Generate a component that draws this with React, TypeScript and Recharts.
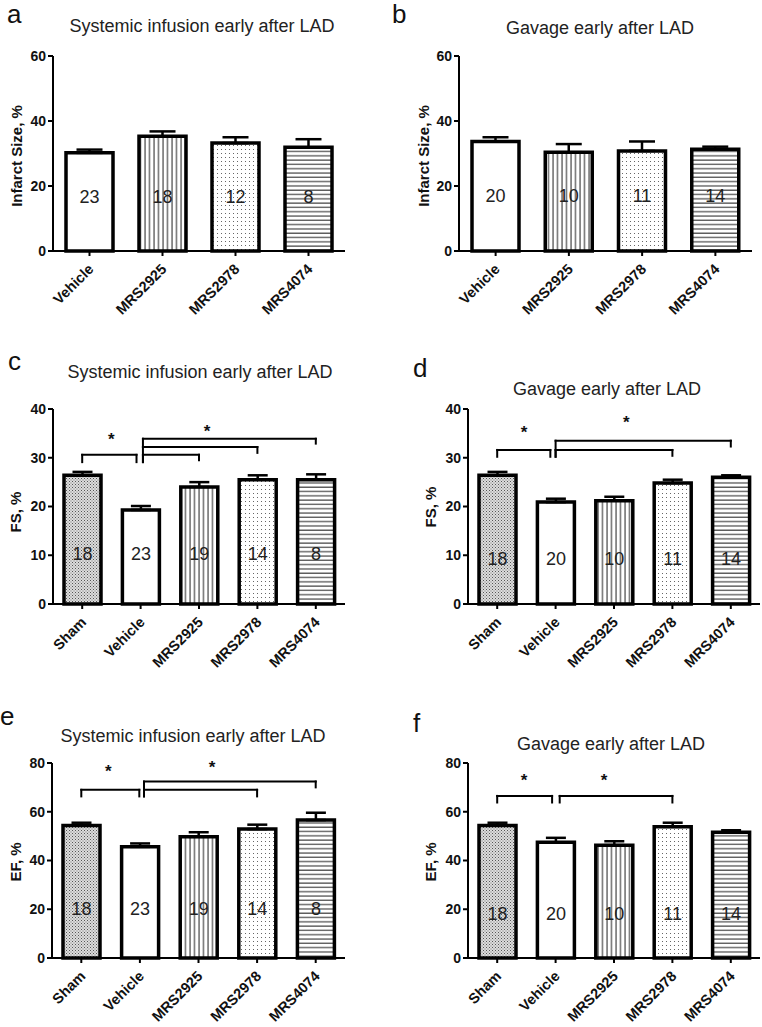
import React from 'react';
import { BarChart, Bar, XAxis, YAxis, ErrorBar, Cell, LabelList, ReferenceLine, ReferenceDot } from 'recharts';

const FONT = '"Liberation Sans", Arial, Helvetica, sans-serif';

// ---------- data ----------
const infarctCategories = ['Vehicle', 'MRS2925', 'MRS2978', 'MRS4074'];
const echoCategories = ['Sham', 'Vehicle', 'MRS2925', 'MRS2978', 'MRS4074'];

const aMeans = [30.2, 35.3, 33.2, 31.9];
const aSem = [1.0, 1.5, 1.8, 2.5];
const aN = [23, 18, 12, 8];

const bMeans = [33.7, 30.4, 30.8, 31.3];
const bSem = [1.3, 2.5, 2.9, 0.8];
const bN = [20, 10, 11, 14];

const cMeans = [26.4, 19.3, 24.0, 25.5, 25.5];
const cSem = [0.7, 0.8, 1.0, 0.9, 1.1];
const cN = [18, 23, 19, 14, 8];

const dMeans = [26.4, 20.9, 21.2, 24.8, 26.0];
const dSem = [0.7, 0.7, 0.8, 0.7, 0.4];
const dN = [18, 20, 10, 11, 14];

const eMeans = [54.4, 45.6, 49.7, 52.9, 56.6];
const eSem = [1.1, 1.4, 1.9, 1.8, 3.0];
const eN = [18, 23, 19, 14, 8];

const fMeans = [54.4, 47.5, 46.3, 53.8, 51.6];
const fSem = [1.1, 1.8, 1.6, 1.7, 0.8];
const fN = [18, 20, 10, 11, 14];

// significance brackets: horizontal at y from x1 to x2 (category index units), legs down to l / r
const cBrackets = [
  { x1: 0, x2: 0.93, y: 30.6, l: 29.1, r: 29.1 },
  { x1: 1.04, x2: 2, y: 30.6, l: 29.1, r: 29.5 },
  { x1: 1.04, x2: 3, y: 32.2, l: 32.2, r: 31.0 },
  { x1: 1.04, x2: 4, y: 33.9, l: 29.1, r: 32.9 },
];
const cStars = [{ x: 0.5, y: 34.7 }, { x: 2.14, y: 36.4 }];

const dBrackets = [
  { x1: 0, x2: 0.91, y: 31.6, l: 30.2, r: 30.2 },
  { x1: 1.0, x2: 3, y: 31.6, l: 30.2, r: 30.4 },
  { x1: 1.0, x2: 4, y: 33.5, l: 30.2, r: 32.3 },
];
const dStars = [{ x: 0.46, y: 36.2 }, { x: 2.21, y: 38.2 }];

const eBrackets = [
  { x1: 0, x2: 0.99, y: 69.0, l: 66.3, r: 66.3 },
  { x1: 1.07, x2: 3, y: 69.0, l: 66.3, r: 66.3 },
  { x1: 1.07, x2: 4, y: 72.4, l: 66.3, r: 70.0 },
];
const eStars = [{ x: 0.46, y: 78.3 }, { x: 2.23, y: 80 }];

const fBrackets = [
  { x1: 0, x2: 0.94, y: 66.5, l: 63.8, r: 63.8 },
  { x1: 1.07, x2: 3, y: 66.5, l: 63.8, r: 63.8 },
];
const fStars = [{ x: 0.46, y: 74.5 }, { x: 1.83, y: 74.5 }];

const ticks60 = [0, 20, 40, 60];
const ticks40 = [0, 10, 20, 30, 40];
const ticks80 = [0, 20, 40, 60, 80];

const titleSystemic = 'Systemic infusion early after LAD';
const titleGavage = 'Gavage early after LAD';

// ---------- helpers ----------
const patternFor: Record<string, string> = {
  Sham: 'url(#patSham)',
  Vehicle: '#ffffff',
  MRS2925: 'url(#patVLines)',
  MRS2978: 'url(#patDots)',
  MRS4074: 'url(#patHLines)',
};

function buildRows(cats: string[], means: number[], sem: number[], ns: number[]) {
  return cats.map((name, i) => ({ name, idx: i, value: means[i], err: [0, sem[i]], n: ns[i] }));
}

const XTick = (props: any) => {
  const { x, y, payload } = props;
  return (
    <g transform={`translate(${x + 5},${y + 12})`}>
      <text textAnchor="end" transform="rotate(-45)" fontFamily={FONT} fontWeight="bold" fontSize={14.5} fill="#111">
        {payload.value}
      </text>
    </g>
  );
};

const makeNLabel = (above: number) => (props: any) => {
  const { x, y, width, height, value } = props;
  const base = Number(y) + Number(height);
  return (
    <text x={Number(x) + Number(width) / 2} y={base - above + 6.5} textAnchor="middle" fontFamily={FONT} fontSize={18} fill="#222">
      {value}
    </text>
  );
};

const starShape = (p: any) => (
  <text x={p.cx} y={p.cy + 10} textAnchor="middle" fontFamily={FONT} fontWeight="bold" fontSize={17} fill="#111">*</text>
);

type Panel = {
  key: string;
  rows: any[];
  yMax: number;
  ticks: number[];
  box: { left: number; top: number; w: number; h: number };
  margin: { top: number; right: number; bottom: number; left: number };
  barSize: number;
  cap: number;
  nAbove: number;
  brackets: { x1: number; x2: number; y: number; l: number; r: number }[];
  stars: { x: number; y: number }[];
};

const panels: Panel[] = [
  {
    key: 'a', rows: buildRows(infarctCategories, aMeans, aSem, aN), yMax: 60, ticks: ticks60,
    box: { left: 0, top: 0, w: 381, h: 340 }, margin: { top: 56, right: 36, bottom: 29, left: 13 },
    barSize: 47, cap: 13, nAbove: 55, brackets: [], stars: [],
  },
  {
    key: 'b', rows: buildRows(infarctCategories, bMeans, bSem, bN), yMax: 60, ticks: ticks60,
    box: { left: 381, top: 0, w: 381, h: 340 }, margin: { top: 56, right: 10, bottom: 29, left: 38 },
    barSize: 47, cap: 13, nAbove: 56, brackets: [], stars: [],
  },
  {
    key: 'c', rows: buildRows(echoCategories, cMeans, cSem, cN), yMax: 40, ticks: ticks40,
    box: { left: 0, top: 340, w: 381, h: 340 }, margin: { top: 69, right: 36, bottom: 16, left: 13 },
    barSize: 37, cap: 10, nAbove: 51, brackets: cBrackets, stars: cStars,
  },
  {
    key: 'd', rows: buildRows(echoCategories, dMeans, dSem, dN), yMax: 40, ticks: ticks40,
    box: { left: 381, top: 340, w: 381, h: 340 }, margin: { top: 69, right: 2, bottom: 16, left: 47 },
    barSize: 37, cap: 10, nAbove: 46, brackets: dBrackets, stars: dStars,
  },
  {
    key: 'e', rows: buildRows(echoCategories, eMeans, eSem, eN), yMax: 80, ticks: ticks80,
    box: { left: 0, top: 680, w: 381, h: 347 }, margin: { top: 83, right: 36, bottom: 9, left: 12 },
    barSize: 37, cap: 10, nAbove: 50, brackets: eBrackets, stars: eStars,
  },
  {
    key: 'f', rows: buildRows(echoCategories, fMeans, fSem, fN), yMax: 80, ticks: ticks80,
    box: { left: 381, top: 680, w: 381, h: 347 }, margin: { top: 83, right: 2, bottom: 9, left: 47 },
    barSize: 37, cap: 10, nAbove: 45, brackets: fBrackets, stars: fStars,
  },
];

const overlayLetters = [
  { t: 'a', x: 7, y: 23 }, { t: 'b', x: 392, y: 23 }, { t: 'c', x: 8, y: 370 },
  { t: 'd', x: 413, y: 377 }, { t: 'e', x: 0, y: 725 }, { t: 'f', x: 413, y: 732 },
];
const overlayTitles = [
  { t: titleSystemic, x: 202, y: 32 }, { t: titleGavage, x: 600, y: 34 },
  { t: titleSystemic, x: 200, y: 378 }, { t: titleGavage, x: 607, y: 395 },
  { t: titleSystemic, x: 193, y: 742 }, { t: titleGavage, x: 611, y: 750 },
];
const overlayYLabels = [
  { t: 'Infarct Size, %', x: 16, y: 156 }, { t: 'Infarct Size, %', x: 423, y: 156 },
  { t: 'FS, %', x: 15, y: 512 }, { t: 'FS, %', x: 430, y: 507 },
  { t: 'EF, %', x: 15, y: 862 }, { t: 'EF, %', x: 430, y: 862 },
];

function PanelChart({ p }: { p: Panel }) {
  const n = p.rows.length;
  return (
    <div style={{ position: 'absolute', left: p.box.left, top: p.box.top, width: p.box.w, height: p.box.h }}>
      <BarChart width={p.box.w} height={p.box.h} data={p.rows} margin={p.margin}>
        <XAxis
          dataKey="name"
          interval={0}
          height={60}
          tick={<XTick />}
          tickSize={5}
          axisLine={{ stroke: '#000', strokeWidth: 2 }}
          tickLine={{ stroke: '#000', strokeWidth: 2 }}
        />
        <XAxis xAxisId="n" type="number" dataKey="idx" domain={[-0.5, n - 0.5]} allowDataOverflow hide />
        <YAxis
          width={40}
          domain={[0, p.yMax]}
          ticks={p.ticks}
          interval={0}
          tickSize={5}
          tickMargin={2}
          axisLine={{ stroke: '#000', strokeWidth: 2 }}
          tickLine={{ stroke: '#000', strokeWidth: 2 }}
          tick={{ fontSize: 14, fontWeight: 'bold', fill: '#111', fontFamily: FONT }}
        />
        <Bar dataKey="value" barSize={p.barSize} isAnimationActive={false} stroke="#000" strokeWidth={3.5}>
          {p.rows.map((r: any, i: number) => (
            <Cell key={i} fill={patternFor[r.name]} stroke="#000" strokeWidth={3.5} />
          ))}
          <ErrorBar dataKey="err" width={p.cap} stroke="#000" strokeWidth={2.5} direction="y" isAnimationActive={false} />
          <LabelList dataKey="n" content={makeNLabel(p.nAbove)} />
        </Bar>
        {p.brackets.flatMap((b, i) => [
          <ReferenceLine key={`h${i}`} xAxisId="n" segment={[{ x: b.x1, y: b.y }, { x: b.x2, y: b.y }]} stroke="#000" strokeWidth={2} strokeLinecap="square" />,
          <ReferenceLine key={`l${i}`} xAxisId="n" segment={[{ x: b.x1, y: b.y }, { x: b.x1, y: b.l }]} stroke="#000" strokeWidth={2} strokeLinecap="square" />,
          <ReferenceLine key={`r${i}`} xAxisId="n" segment={[{ x: b.x2, y: b.y }, { x: b.x2, y: b.r }]} stroke="#000" strokeWidth={2} strokeLinecap="square" />,
        ])}
        {p.stars.map((s, i) => (
          <ReferenceDot key={`s${i}`} xAxisId="n" x={s.x} y={s.y} r={3} shape={starShape} />
        ))}
      </BarChart>
    </div>
  );
}

export default function App() {
  return (
    <div style={{ position: 'absolute', left: 0, top: 0, width: 762, height: 1027, background: '#fff', overflow: 'hidden' }}>
      <svg width={0} height={0} style={{ position: 'absolute' }}>
        <defs>
          <pattern id="patVLines" patternUnits="userSpaceOnUse" width={4.5} height={10}>
            <rect width={4.5} height={10} fill="#fff" />
            <line x1={1} y1={0} x2={1} y2={10} stroke="#222" strokeWidth={1} />
          </pattern>
          <pattern id="patHLines" patternUnits="userSpaceOnUse" width={10} height={4.3}>
            <rect width={10} height={4.3} fill="#fff" />
            <line x1={0} y1={1} x2={10} y2={1} stroke="#333" strokeWidth={1.1} />
          </pattern>
          <pattern id="patDots" patternUnits="userSpaceOnUse" width={4} height={4}>
            <rect width={4} height={4} fill="#fff" />
            <rect x={1} y={1} width={1} height={1} fill="#666" />
          </pattern>
          <pattern id="patSham" patternUnits="userSpaceOnUse" width={3} height={3}>
            <rect width={3} height={3} fill="#dcdcdc" />
            <rect x={0} y={0} width={1} height={1} fill="#555" />
            <rect x={1.5} y={1.5} width={1} height={1} fill="#777" />
          </pattern>
        </defs>
      </svg>
      {panels.map((p) => (
        <PanelChart key={p.key} p={p} />
      ))}
      <svg width={762} height={1027} style={{ position: 'absolute', left: 0, top: 0, pointerEvents: 'none' }}>
        {overlayLetters.map((l) => (
          <text key={l.t} x={l.x} y={l.y} fontFamily={FONT} fontSize={26} fill="#111">{l.t}</text>
        ))}
        {overlayTitles.map((t, i) => (
          <text key={i} x={t.x} y={t.y} textAnchor="middle" fontFamily={FONT} fontSize={18} fill="#222">{t.t}</text>
        ))}
        {overlayYLabels.map((t, i) => (
          <text
            key={i}
            x={t.x}
            y={t.y}
            textAnchor="middle"
            dominantBaseline="central"
            transform={`rotate(-90, ${t.x}, ${t.y})`}
            fontFamily={FONT}
            fontWeight="bold"
            fontSize={15}
            fill="#111"
          >
            {t.t}
          </text>
        ))}
      </svg>
    </div>
  );
}
